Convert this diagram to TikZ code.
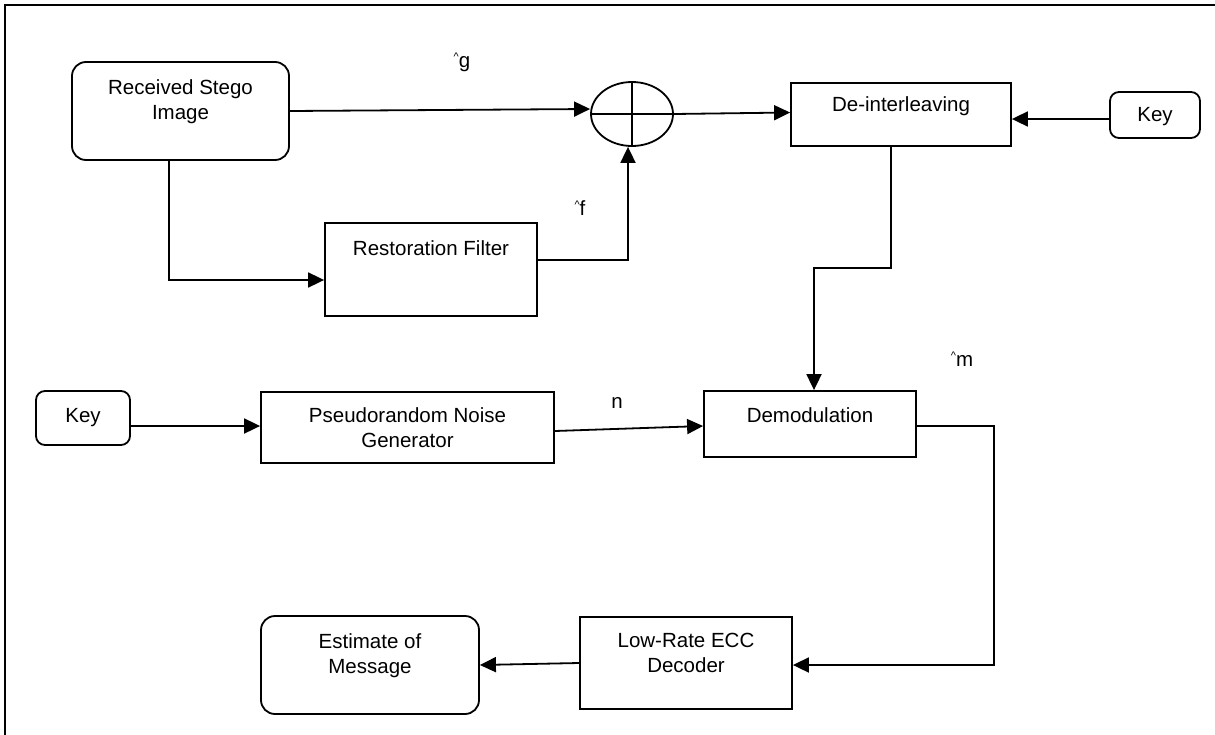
\documentclass[tikz,border=0pt]{standalone}
\usepackage{fontspec}
\setmainfont{Liberation Sans}
\usetikzlibrary{arrows.meta,shapes.geometric}

\begin{document}
\begin{tikzpicture}[x=1pt,y=-1pt,
  line width=1.8pt,
  every node/.style={font=\fontsize{20.5}{25}\selectfont},
  block/.style={draw, rectangle, inner sep=0pt, minimum width=#1},
  rblock/.style={draw, rectangle, rounded corners=14pt, inner sep=0pt},
  keybox/.style={draw, rectangle, rounded corners=9pt, inner sep=0pt,
                 minimum width=90pt, minimum height=46pt},
  txt/.style={align=center, inner sep=0pt},
  arr/.style={-{Triangle[length=16pt,width=15pt]}},
  frame/.style={line width=2pt}
]
\useasboundingbox (0,0) rectangle (1215,734);

% outer frame
\draw[frame] (5,740) -- (5,5) -- (1220,5);

% blocks
\node[rblock, minimum width=217pt, minimum height=98pt] (rsi) at (180.5,111) {};
\node[txt] (rsiT) at (180.5,102) {Received Stego\\Image};

\node[draw, ellipse, inner sep=0pt, minimum width=82pt, minimum height=64pt] (sum) at (632,114) {};
\draw (sum.north) -- (sum.south);
\draw (sum.west) -- (sum.east);

\node[block=212pt, minimum height=93pt] (rf) at (431,269.5) {};
\node[txt] (rfT) at (431,248) {Restoration Filter};

\node[block=220pt, minimum height=63pt] (di) at (901,114.5) {};
\node[txt] (diT) at (901,106) {De-interleaving};

\node[keybox] (keyr) at (1155,115) {};
\node[txt] (keyrT) at (1155,117) {Key};

\node[keybox, minimum width=94pt, minimum height=54pt] (keyl) at (83,418) {};
\node[txt] (keylT) at (83,418) {Key};

\node[block=293pt, minimum height=71pt] (pn) at (407.5,427.5) {};
\node[txt] (pnT) at (407.5,427.5) {Pseudorandom Noise\\Generator};

\node[block=212pt, minimum height=66pt] (dm) at (810,424) {};
\node[txt] (dmT) at (810,415) {Demodulation};

\node[block=212pt, minimum height=92pt] (lr) at (686,663) {};
\node[txt] (lrT) at (686,652.5) {Low-Rate ECC\\Decoder};

\node[rblock, minimum width=218pt, minimum height=98pt] (em) at (370,665) {};
\node[txt] (emT) at (370,655.5) {Estimate of\\Message};

% signal labels
\newcommand{\hatmark}{\raisebox{7pt}{\fontsize{11}{11}\selectfont\textasciicircum}}
\node[txt] (lblg) at (462,62) {\hatmark g};
\node[txt] (lblf) at (580,208) {\hatmark f};
\node[txt] (lbln) at (617,403) {n};
\node[txt] (lblm) at (962,359) {\hatmark m};

% routing points
\coordinate (bendA) at (814,268);
\coordinate (bendB) at (994,665);

% connectors
\draw[arr] (rsi.east) -- ([yshift=5pt]sum.west);
\draw[arr] ([xshift=-11.5pt]rsi.south) |- ([yshift=-10.5pt]rf.west);
\draw[arr] ([yshift=9.5pt]rf.east) -| ([xshift=-4pt]sum.south);
\draw[arr] (sum.east) -- ([yshift=2pt]di.west);
\draw[arr] ([yshift=-4pt]keyr.west) -- ([yshift=-4.5pt]di.east);
\draw[arr] ([xshift=-10pt]di.south) |- (bendA) -- (bendA |- dm.north);
\draw[arr] ([yshift=-8pt]keyl.east) -- ([yshift=1.5pt]pn.west);
\draw[arr] ([yshift=-3.5pt]pn.east) -- ([yshift=-2pt]dm.west);
\draw[arr] ([yshift=-2pt]dm.east) -| (bendB) -- (bendB -| lr.east);
\draw[arr] (lr.west) -- (em.east);
\end{tikzpicture}
\end{document}
